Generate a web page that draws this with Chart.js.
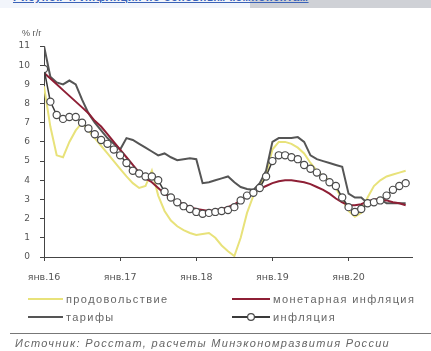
<!DOCTYPE html>
<html lang="ru">
<head>
<meta charset="utf-8">
<script src="https://cdn.jsdelivr.net/npm/chart.js@4/dist/chart.umd.min.js"></script>
<style>
  html, body { margin: 0; padding: 0; background: #fff; }
  body { width: 431px; height: 351px; position: relative; overflow: hidden;
         font-family: "Liberation Sans", Arial, sans-serif; color: #555; }
  #titlebar { position: absolute; left: 0; top: 0; width: 431px; height: 8px; overflow: hidden;
              background: linear-gradient(to right, #f2f5fb 0, #f2f5fb 250px, #cfd1d6 250px, #cfd1d6 100%); }
  #titlebar span { position: absolute; left: 13px; top: -9px; font-size: 11px; font-weight: bold;
                   color: #3a62b8; letter-spacing: 0.6px; white-space: nowrap; text-decoration: underline; }
  #wrap { position: absolute; left: 0; top: 0; width: 431px; height: 290px; }
  #unit { position: absolute; left: 22px; top: 28px; font-size: 9px; color: #555; }
  #legend { position: absolute; left: 0; top: 293px; width: 431px; height: 34px; }
  .item { position: absolute; display: flex; align-items: center; font-size: 11px;
          letter-spacing: 1.4px; color: #666; white-space: nowrap; }
  .item canvas { margin-right: 3px; }
  #rule { position: absolute; left: 10px; right: 0; top: 333px; border-top: 1px solid #777; }
  #source { position: absolute; left: 15px; top: 337px; font-size: 11px; font-style: italic;
            letter-spacing: 1.3px; color: #666; white-space: nowrap; }
</style>
</head>
<body>
<div id="titlebar"><span>Рисунок 4. Инфляция по основным компонентам</span></div>
<div id="wrap"><canvas id="chart"></canvas></div>
<div id="unit">% г/г</div>
<div id="legend"></div>
<div id="rule"></div>
<div id="source">Источник: Росстат, расчеты Минэкономразвития России</div>
<script>
// Monthly categories, January 2016 – October 2020
const monthNames = ['янв','фев','мар','апр','май','июн','июл','авг','сен','окт','ноя','дек'];
const years = ['16','17','18','19','20'];
const lastMonthOf2020 = 10;
const months = [];
years.forEach(y => monthNames.forEach((m, i) => {
  if (y !== '20' || i < lastMonthOf2020) months.push(m + '.' + y);
}));

// Year-on-year growth, %
const food = [8.9, 6.8, 5.3, 5.2, 6.0, 6.6, 7.0, 6.6, 6.2, 5.8, 5.4, 5.0,
              4.6, 4.2, 3.85, 3.6, 3.7, 4.5, 3.2, 2.4, 1.9, 1.6, 1.4, 1.25,
              1.15, 1.2, 1.25, 1.0, 0.6, 0.3, 0.05, 1.0, 2.3, 3.2, 3.7, 4.3,
              5.6, 6.0, 6.0, 5.9, 5.7, 5.4, 4.9, 4.5, 4.2, 4.0, 3.6, 3.0,
              2.4, 2.1, 2.3, 3.1, 3.7, 4.0, 4.2, 4.3, 4.4, 4.5];
const tariffs = [11.0, 9.4, 9.1, 9.0, 9.2, 9.0, 8.2, 7.5, 7.0, 6.6, 6.2, 5.9,
                 5.6, 6.2, 6.1, 5.9, 5.7, 5.5, 5.3, 5.4, 5.2, 5.05, 5.1, 5.15,
                 5.1, 3.85, 3.9, 4.0, 4.1, 4.2, 3.9, 3.65, 3.55, 3.5, 3.85, 4.5,
                 6.0, 6.2, 6.2, 6.2, 6.25, 6.0, 5.3, 5.1, 5.0, 4.9, 4.8, 4.7,
                 3.3, 3.1, 3.1, 2.8, 3.0, 3.0, 2.8, 2.8, 2.8, 2.8];
const monetary = [9.6, 9.3, 9.0, 8.7, 8.4, 8.1, 7.8, 7.5, 7.1, 6.8, 6.4, 6.0,
                  5.6, 5.2, 4.8, 4.4, 4.1, 3.9, 3.6, 3.3, 3.1, 2.9, 2.75, 2.6,
                  2.5, 2.45, 2.4, 2.45, 2.5, 2.6, 2.75, 2.95, 3.15, 3.35, 3.55, 3.7,
                  3.85, 3.95, 4.0, 4.0, 3.95, 3.9, 3.8, 3.65, 3.5, 3.3, 3.05, 2.85,
                  2.7, 2.7, 2.75, 2.9, 3.0, 3.0, 2.95, 2.85, 2.8, 2.7];
const inflation = [9.8, 8.1, 7.4, 7.2, 7.3, 7.3, 7.0, 6.7, 6.4, 6.1, 5.9, 5.6,
                   5.3, 4.9, 4.5, 4.35, 4.2, 4.2, 4.0, 3.4, 3.1, 2.85, 2.65, 2.5,
                   2.35, 2.25, 2.3, 2.35, 2.4, 2.45, 2.6, 2.95, 3.2, 3.35, 3.6, 4.2,
                   5.0, 5.3, 5.3, 5.2, 5.1, 4.8, 4.6, 4.4, 4.15, 3.9, 3.7, 3.1,
                   2.6, 2.35, 2.5, 2.8, 2.85, 2.95, 3.2, 3.5, 3.7, 3.85];

// Axis ticks: January of each year; y from 0 to 11
const yearTicks = months.map((m, i) => m.startsWith('янв') ? i : -1).filter(i => i >= 0);
const yMin = 0, yMax = 11;

const toPoints = arr => arr.map((v, i) => ({ x: i, y: v }));

const datasets = [
  { label: 'инфляция', data: toPoints(inflation), borderColor: '#3a3a3a', borderWidth: 1.5,
    pointRadius: 3.6, pointBackgroundColor: '#ffffff', pointBorderColor: '#4a4a4a',
    pointBorderWidth: 1.2, order: 0, legendPos: 'r2', sample: 'marker' },
  { label: 'монетарная инфляция', data: toPoints(monetary), borderColor: '#8e1f35', borderWidth: 2,
    pointRadius: 0, order: 1, legendPos: 'r1' },
  { label: 'тарифы', data: toPoints(tariffs), borderColor: '#555555', borderWidth: 2,
    pointRadius: 0, order: 2, legendPos: 'l2' },
  { label: 'продовольствие', data: toPoints(food), borderColor: '#e8e27a', borderWidth: 2,
    pointRadius: 0, order: 3, legendPos: 'l1' }
];

const axisColor = '#444';
const tickFont = { family: '"DejaVu Sans", sans-serif', size: 9 };

const chart = new Chart(document.getElementById('chart'), {
  type: 'line',
  data: { datasets },
  options: {
    responsive: true,
    maintainAspectRatio: false,
    animation: false,
    events: [],
    layout: { padding: { left: 0, right: 19, top: 46, bottom: 3 } },
    plugins: { legend: { display: false }, tooltip: { enabled: false } },
    elements: { line: { tension: 0 } },
    scales: {
      x: {
        type: 'linear',
        min: 0,
        max: months.length,
        afterBuildTicks: s => { s.ticks = yearTicks.map(v => ({ value: v })); },
        afterFit: s => { s.height = 30; },
        border: { display: true, color: axisColor, width: 1 },
        grid: { display: true, drawOnChartArea: false, drawTicks: true, tickLength: 4, color: axisColor },
        ticks: {
          autoSkip: false, maxRotation: 0, padding: 11, color: '#555',
          font: { ...tickFont, size: 9.5 },
          callback: v => months[v]
        }
      },
      y: {
        min: yMin,
        max: yMax,
        afterFit: s => { s.width = 44; },
        border: { display: true, color: axisColor, width: 1 },
        grid: { display: true, drawOnChartArea: false, drawTicks: true, tickLength: 4, color: axisColor },
        ticks: { stepSize: 1, padding: 10, color: '#555', font: tickFont }
      }
    }
  }
});

// Two-column legend built from the chart's datasets
const legendBox = document.getElementById('legend');
const slots = { l1: [28, 0], l2: [28, 18], r1: [232, 0], r2: [232, 18] };
chart.data.datasets.forEach(ds => {
  const item = document.createElement('div');
  item.className = 'item';
  const [left, top] = slots[ds.legendPos];
  item.style.left = left + 'px';
  item.style.top = top + 'px';
  const c = document.createElement('canvas');
  const w = ds.legendPos.startsWith('r') ? 38 : 35;
  c.width = w; c.height = 12;
  const ctx = c.getContext('2d');
  ctx.strokeStyle = ds.borderColor;
  ctx.lineWidth = 2;
  ctx.beginPath(); ctx.moveTo(0, 6); ctx.lineTo(w, 6); ctx.stroke();
  if (ds.sample === 'marker') {
    ctx.fillStyle = '#fff';
    ctx.strokeStyle = ds.pointBorderColor;
    ctx.lineWidth = 1.2;
    ctx.beginPath(); ctx.arc(w / 2, 6, 3.4, 0, Math.PI * 2); ctx.fill(); ctx.stroke();
  }
  const t = document.createElement('span');
  t.textContent = ds.label;
  item.appendChild(c);
  item.appendChild(t);
  legendBox.appendChild(item);
});
</script>
</body>
</html>
